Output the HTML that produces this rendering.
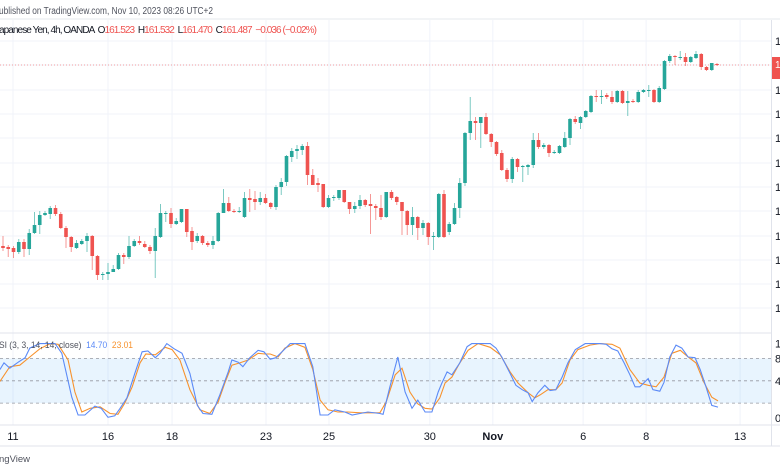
<!DOCTYPE html>
<html><head><meta charset="utf-8">
<style>
body{margin:0;background:#fff;width:780px;height:470px;overflow:hidden;font-family:"Liberation Sans",sans-serif;}
svg{display:block}
</style></head>
<body>
<svg id="chart" width="780" height="470" viewBox="0 0 780 470" xmlns="http://www.w3.org/2000/svg">
<rect x="0" y="0" width="780" height="470" fill="#ffffff"/>
<g id="grid"></g>
<g id="candles"></g>
<g id="stoch"></g>
<line x1="0" y1="19" x2="780" y2="19" stroke="#e6e8ee"/>
<text x="-1" y="14" font-size="10" fill="#50535e" textLength="214" lengthAdjust="spacingAndGlyphs">ublished on TradingView.com, Nov 10, 2023 08:26 UTC+2</text>
<text x="-1" y="33" font-size="10" fill="#131722" xml:space="preserve" textLength="318" lengthAdjust="spacing">apanese Yen, 4h, OANDA  O<tspan fill="#ef5350">161.523</tspan>  H<tspan fill="#ef5350">161.532</tspan>  L<tspan fill="#ef5350">161.470</tspan>  C<tspan fill="#ef5350">161.487  −0.036 (−0.02%)</tspan></text>
<line x1="0" y1="333" x2="772" y2="333" stroke="#e0e3eb"/>
<line x1="0" y1="425" x2="780" y2="425" stroke="#e0e3eb"/>
<line x1="0" y1="446" x2="780" y2="446" stroke="#e0e3eb"/>
<line x1="771.5" y1="20" x2="771.5" y2="446" stroke="#e0e3eb"/>
<text x="-1" y="348" font-size="9.5" fill="#50535e" xml:space="preserve" textLength="134" lengthAdjust="spacingAndGlyphs">SI (3, 3, 14, 14, close)  <tspan fill="#5b8af7">14.70</tspan>  <tspan fill="#f7922d">23.01</tspan></text>
<text x="-1" y="462" font-size="9.5" fill="#50535e">ngView</text>
<g id="axes"></g>
</svg>
<script>
const openP=[157.90,157.88,157.86,157.78,157.98,157.84,158.16,158.32,158.52,158.54,158.66,158.54,158.26,158.08,157.86,157.94,158.00,158.10,157.70,157.32,157.34,157.38,157.44,157.72,157.68,157.90,158.00,157.94,157.88,157.80,158.08,158.54,158.56,158.34,158.38,158.64,158.20,158.00,158.10,157.96,157.92,158.00,158.56,158.76,158.60,158.58,158.48,158.86,158.84,158.78,158.86,158.76,158.68,159.08,159.18,159.68,159.80,159.82,159.90,159.32,159.16,159.14,158.68,158.86,158.86,159.02,158.78,158.64,158.70,158.82,158.74,158.70,158.66,158.48,158.98,158.88,158.78,158.60,158.32,158.48,158.26,158.36,158.08,158.08,158.94,158.18,158.34,158.66,159.16,160.16,160.40,160.36,160.48,160.14,159.98,159.76,159.42,159.24,159.64,159.48,159.48,159.52,160.02,159.88,159.92,159.76,159.76,159.88,160.06,160.44,160.36,160.48,160.58,160.90,160.88,160.92,160.88,160.78,161.00,160.76,160.80,160.78,160.98,161.00,161.02,160.78,161.04,161.60,161.70,161.66,161.68,161.58,161.66,161.74,161.48,161.42,161.54];
const closeP=[157.86,157.84,157.78,157.98,157.84,158.16,158.32,158.52,158.56,158.66,158.54,158.26,158.08,157.88,157.96,158.00,158.10,157.70,157.32,157.34,157.38,157.44,157.72,157.68,157.90,158.00,157.96,157.88,157.80,158.10,158.56,158.56,158.34,158.40,158.64,158.18,157.98,158.10,157.96,157.92,158.00,158.56,158.76,158.60,158.58,158.60,158.86,158.82,158.78,158.86,158.76,158.68,159.08,159.18,159.70,159.80,159.84,159.90,159.32,159.12,159.12,158.68,158.86,158.88,159.02,158.78,158.64,158.70,158.82,158.72,158.70,158.66,158.48,158.98,158.86,158.78,158.60,158.32,158.48,158.26,158.36,158.08,158.10,158.94,158.08,158.34,158.66,159.16,160.16,160.40,160.36,160.48,160.14,159.98,159.74,159.42,159.24,159.64,159.48,159.50,159.52,160.02,159.88,159.92,159.76,159.78,159.90,160.06,160.44,160.38,160.48,160.60,160.90,160.88,160.90,160.88,160.78,161.00,160.76,160.80,160.78,160.98,161.02,161.02,160.78,161.06,161.60,161.70,161.68,161.68,161.58,161.68,161.74,161.48,161.42,161.56,161.52];
const highP=[158.10,157.92,157.90,158.04,158.04,158.24,158.58,158.60,158.60,158.70,158.72,158.58,158.30,158.10,158.02,158.04,158.16,158.12,157.72,157.38,157.56,157.52,157.76,157.76,158.10,158.04,158.10,158.00,157.92,158.26,158.74,158.60,158.66,158.46,158.64,158.64,158.28,158.16,158.12,158.00,158.10,158.58,159.04,158.88,158.64,158.68,158.98,159.04,159.00,158.98,158.94,158.78,159.12,159.26,159.72,159.86,159.92,159.94,159.98,159.44,159.26,159.14,158.92,158.92,159.02,159.02,158.78,158.78,158.92,158.84,158.94,158.74,158.92,158.98,159.02,158.90,158.78,158.62,158.68,158.50,158.42,158.38,158.18,158.96,159.02,158.38,158.76,159.26,160.18,160.88,160.48,160.48,160.56,160.16,160.00,159.82,159.46,159.68,159.66,159.52,159.54,160.16,160.16,159.96,159.94,159.82,159.92,160.18,160.46,160.50,160.50,160.62,160.92,161.02,161.02,160.96,161.00,161.02,161.02,161.00,160.84,161.02,161.04,161.12,161.04,161.10,161.62,161.74,161.72,161.80,161.76,161.70,161.80,161.76,161.50,161.56,161.56];
const lowP=[157.80,157.68,157.66,157.74,157.68,157.72,158.14,158.14,158.50,158.44,158.50,158.24,157.86,157.78,157.84,157.92,157.78,157.42,157.22,157.22,157.22,157.38,157.42,157.54,157.64,157.88,157.92,157.86,157.74,157.26,158.06,158.38,158.26,158.32,158.36,158.08,157.82,157.96,157.92,157.88,157.84,157.98,158.56,158.58,158.56,158.56,158.46,158.58,158.62,158.72,158.74,158.64,158.62,158.92,159.10,159.58,159.64,159.72,159.12,159.12,158.98,158.66,158.66,158.80,158.82,158.76,158.54,158.56,158.64,158.68,158.14,158.42,158.42,158.46,158.82,158.72,158.12,158.12,158.12,158.02,158.12,157.92,157.82,158.06,158.06,158.12,158.32,158.46,159.10,160.02,160.02,159.86,160.12,159.88,159.70,159.40,159.18,159.16,159.38,159.18,159.32,159.46,159.84,159.84,159.68,159.74,159.74,159.86,159.92,160.34,160.24,160.46,160.56,160.78,160.74,160.84,160.74,160.76,160.74,160.50,160.76,160.76,160.96,160.88,160.76,160.76,161.02,161.56,161.52,161.62,161.50,161.56,161.64,161.42,161.40,161.40,161.50];
const gridPrices=[162.00,161.52,161.02,160.54,160.06,159.56,159.08,158.60,158.10,157.62,157.14,156.66];
const priceLabels=["162.000","161.500","161.000","160.500","160.000","159.500","159.000","158.500","158.000","157.500","157.000","156.500"];
const dateBars=[1.9,20,32.2,50.1,62.1,81.3,93.3,110.5,122.5,140.4];
const dateLabels=["11","16","18","23","25","30","Nov","6","8","13"];
const kBar=[-0.6,0.2,1.3,2.9,4.2,5.1,7,9.9,11.2,13.1,14.3,15.6,17.5,18.7,20,21.3,22.3,23.6,25.1,26.5,27.6,29,29.9,31.2,32.6,34.1,35.6,37,38.1,39.8,41.3,42.9,43.6,44.8,45.7,47,48.6,49.7,50.9,52,53.3,54.7,57.5,59,60.4,61.9,63.2,65.1,66.5,68,69.5,71.8,72.4,73.7,75.2,76.6,77.9,79,80.4,81.7,82.9,83.6,84.6,85.5,87,88.4,89.3,92.8,93.9,95,96.6,97.7,98.9,100,100.8,101.9,103.2,104.2,105.3,106.5,107.6,109,110.9,113.7,114.9,116,117.1,118.3,119.4,120.4,121.3,122.9,123.8,125.1,125.9,127,128.2,129.3,130.5,131.8,132.8,133.9,135,136.2];
const kVal=[65,74,67,75,81,94,100,100,87,28,4,4,16,13,1,3,13,27,60,89,90,81,87,100,93,87,60,17,6,5,31,62,78,75,69,81,91,89,79,81,90,100,100,69,4,4,11,8,4,6,8,6,5,42,82,35,13,24,8,8,35,47,62,58,74,96,100,100,94,82,60,44,38,34,22,34,44,37,38,55,74,92,100,100,99,93,90,74,58,42,42,53,38,36,48,82,98,94,82,81,65,42,17,14.7];
const dBar=[-0.6,1.3,3.2,5.1,7,9,10.5,12.4,13.7,15,16.6,18.5,20.4,21.9,23.2,24.6,26.1,27.2,29,30.9,32.2,33.7,35.6,37.5,39.4,41,42.3,43.6,45.1,46.7,48.6,49.9,50.9,52.4,53.7,55.6,57.5,59,60.4,61.9,63.8,65.7,68,69.9,71.8,73,74.7,76,77.5,79,80.4,81.7,83.2,84.2,85.5,87,88.6,90.5,92.8,94.7,96.6,98.1,100,101.3,102.3,103.8,105.3,106.5,108,109.5,111.8,113.7,116,117.5,119.4,121.3,122.9,124.4,125.9,127.4,129,130.5,132,133.5,135,136.2];
const dVal=[49,69,71,82,93,100,99,78,35,8,13,15,6,5,20,42,74,86,85,95,92,78,38,11,6,22,48,71,74,78,87,86,86,82,94,100,95,65,24,11,8,8,7,7,7,22,58,67,35,19,13,12,27,47,55,74,91,100,95,85,62,47,34,27,31,38,38,47,78,92,98,100,99,94,65,47,44,42,55,87,91,82,74,48,28,23.01];

const NS="http://www.w3.org/2000/svg";
const pTop=162.82, pxPerUnit=50;
const x0=3, step=5.25;
function xOf(i){return x0+i*step;}
function yP(p){return (pTop-p)*pxPerUnit;}
function yS(v){return 418-v*0.744;}
function mk(tag,attrs,parent){const e=document.createElementNS(NS,tag);for(const k in attrs)e.setAttribute(k,attrs[k]);parent.appendChild(e);return e;}
const grid=document.getElementById('grid'),cg=document.getElementById('candles'),sg=document.getElementById('stoch'),ax=document.getElementById('axes');

gridPrices.forEach((p,i)=>{
  const y=yP(p);
  const l=mk('line',{x1:0,x2:771,y1:y,y2:y,stroke:'#f0f3fa'},grid);
  
  
  const t=mk('text',{x:775,y:y+4,'font-size':11,fill:'#131722'},ax);
  
  
  t.textContent=priceLabels[i];
});
dateBars.forEach((b,i)=>{
  const x=xOf(b);
  const l=mk('line',{x1:x,x2:x,y1:20,y2:425,stroke:'#f0f3fa'},grid);
  
  
  const t=mk('text',{x:x,y:440,'font-size':11,fill:'#131722','text-anchor':'middle','font-weight':dateLabels[i]==='Nov'?'bold':'normal'},ax);
  
  
  t.textContent=dateLabels[i];
});
const lastY=yP(closeP[closeP.length-1]);
const pl=mk('line',{x1:0,x2:771,y1:lastY,y2:lastY,stroke:'#ef5350','stroke-dasharray':'1,2','stroke-width':0.8,opacity:0.7},grid);


const tag=mk('rect',{x:772,y:lastY-8,width:10,height:22,fill:'#ef5350'},ax);


const tagT=mk('text',{x:775,y:lastY+3,'font-size':10,fill:'#ffffff'},ax);


tagT.textContent='161.487';

openP.forEach((o,i)=>{
  const c=closeP[i],h=highP[i],l=lowP[i];
  const col=c>=o?'#26a69a':'#ef5350';
  const x=xOf(i);
  const g=mk('g',{},cg);
  
  
  mk('line',{x1:x,x2:x,y1:yP(h),y2:yP(l),stroke:col,'stroke-width':1,opacity:0.6},g);
  const top=Math.min(yP(o),yP(c)),bh=Math.max(1,Math.abs(yP(o)-yP(c)));
  mk('rect',{x:x-1.8,y:top,width:3.6,height:bh,fill:col},g);
});

const band=mk('rect',{x:0,y:yS(80),width:771,height:yS(20)-yS(80),fill:'rgba(33,150,243,0.1)'},sg);


[80,50,20].forEach(v=>{
  const l=mk('line',{x1:0,x2:771,y1:yS(v),y2:yS(v),stroke:'#9598a1','stroke-dasharray':'3,3','stroke-width':0.8},sg);
  
  
});
[[100,'1'],[80,'8'],[50,'4'],[0,'0']].forEach(a=>{
  const t=mk('text',{x:775,y:yS(a[0])+4,'font-size':11,fill:'#131722'},ax);
  
  
  t.textContent=a[1];
});
function path(bars,vals){return bars.map((b,i)=>(i?'L':'M')+xOf(b).toFixed(1)+','+yS(vals[i]).toFixed(1)).join('');}
const dp=mk('path',{d:path(dBar,dVal),fill:'none',stroke:'#f7922d','stroke-width':1.1},sg);


const kp=mk('path',{d:path(kBar,kVal),fill:'none',stroke:'#5b8af7','stroke-width':1.1},sg);


</script>
</body></html>
